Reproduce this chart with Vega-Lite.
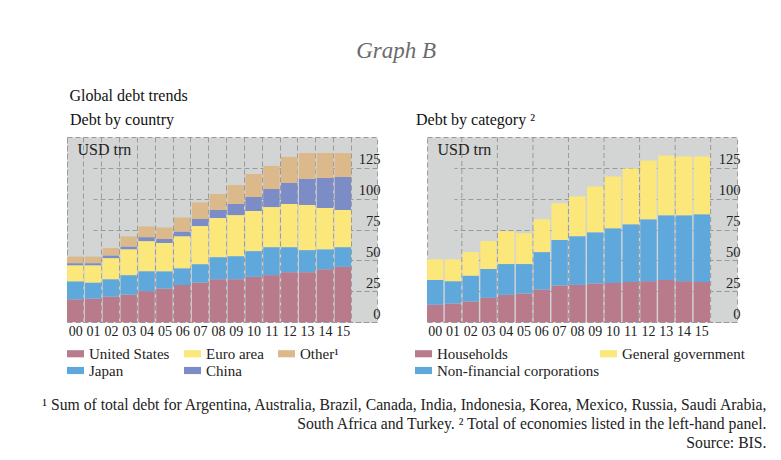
{
  "$schema": "https://vega.github.io/schema/vega-lite/v6.json",
  "background": "white",
  "padding": {"left": 35, "top": 40, "right": 10, "bottom": 8},
  "title": {"text": "Graph B", "fontStyle": "italic", "fontSize": 23, "fontWeight": "normal", "color": "#6b6b6b", "anchor": "middle", "offset": 25, "dx": -5, "font": "Liberation Serif"},
  "datasets": {
    "country": [
      {"year":"00","series":"United States","value":18.4},{"year":"00","series":"Japan","value":14.6},{"year":"00","series":"Euro area","value":13.0},{"year":"00","series":"China","value":1.7},{"year":"00","series":"Other¹","value":5.3},
      {"year":"01","series":"United States","value":19.0},{"year":"01","series":"Japan","value":13.0},{"year":"01","series":"Euro area","value":14.0},{"year":"01","series":"China","value":1.7},{"year":"01","series":"Other¹","value":5.3},
      {"year":"02","series":"United States","value":20.6},{"year":"02","series":"Japan","value":14.1},{"year":"02","series":"Euro area","value":17.1},{"year":"02","series":"China","value":2.2},{"year":"02","series":"Other¹","value":6.0},
      {"year":"03","series":"United States","value":22.2},{"year":"03","series":"Japan","value":15.8},{"year":"03","series":"Euro area","value":21.0},{"year":"03","series":"China","value":2.2},{"year":"03","series":"Other¹","value":8.2},
      {"year":"04","series":"United States","value":25.0},{"year":"04","series":"Japan","value":16.2},{"year":"04","series":"Euro area","value":24.4},{"year":"04","series":"China","value":3.2},{"year":"04","series":"Other¹","value":8.7},
      {"year":"05","series":"United States","value":27.1},{"year":"05","series":"Japan","value":14.1},{"year":"05","series":"Euro area","value":22.8},{"year":"05","series":"China","value":3.2},{"year":"05","series":"Other¹","value":9.5},
      {"year":"06","series":"United States","value":30.0},{"year":"06","series":"Japan","value":13.6},{"year":"06","series":"Euro area","value":26.0},{"year":"06","series":"China","value":3.8},{"year":"06","series":"Other¹","value":11.4},
      {"year":"07","series":"United States","value":32.0},{"year":"07","series":"Japan","value":14.9},{"year":"07","series":"Euro area","value":30.9},{"year":"07","series":"China","value":5.7},{"year":"07","series":"Other¹","value":13.5},
      {"year":"08","series":"United States","value":34.7},{"year":"08","series":"Japan","value":17.9},{"year":"08","series":"Euro area","value":31.7},{"year":"08","series":"China","value":6.5},{"year":"08","series":"Other¹","value":13.0},
      {"year":"09","series":"United States","value":34.7},{"year":"09","series":"Japan","value":18.7},{"year":"09","series":"Euro area","value":33.3},{"year":"09","series":"China","value":9.0},{"year":"09","series":"Other¹","value":15.3},
      {"year":"10","series":"United States","value":36.6},{"year":"10","series":"Japan","value":20.9},{"year":"10","series":"Euro area","value":32.5},{"year":"10","series":"China","value":11.4},{"year":"10","series":"Other¹","value":18.6},
      {"year":"11","series":"United States","value":38.0},{"year":"11","series":"Japan","value":22.7},{"year":"11","series":"Euro area","value":32.5},{"year":"11","series":"China","value":14.7},{"year":"11","series":"Other¹","value":18.7},
      {"year":"12","series":"United States","value":40.4},{"year":"12","series":"Japan","value":20.3},{"year":"12","series":"Euro area","value":35.0},{"year":"12","series":"China","value":17.0},{"year":"12","series":"Other¹","value":21.2},
      {"year":"13","series":"United States","value":40.4},{"year":"13","series":"Japan","value":17.9},{"year":"13","series":"Euro area","value":36.6},{"year":"13","series":"China","value":21.1},{"year":"13","series":"Other¹","value":21.0},
      {"year":"14","series":"United States","value":42.8},{"year":"14","series":"Japan","value":16.2},{"year":"14","series":"Euro area","value":33.4},{"year":"14","series":"China","value":24.4},{"year":"14","series":"Other¹","value":20.2},
      {"year":"15","series":"United States","value":44.7},{"year":"15","series":"Japan","value":16.0},{"year":"15","series":"Euro area","value":30.1},{"year":"15","series":"China","value":26.8},{"year":"15","series":"Other¹","value":19.4}
    ],
    "category": [
      {"year":"00","series":"Households","value":14.0},{"year":"00","series":"Non-financial corporations","value":20.1},{"year":"00","series":"General government","value":16.7},
      {"year":"01","series":"Households","value":15.0},{"year":"01","series":"Non-financial corporations","value":18.1},{"year":"01","series":"General government","value":17.7},
      {"year":"02","series":"Households","value":16.7},{"year":"02","series":"Non-financial corporations","value":20.9},{"year":"02","series":"General government","value":19.1},
      {"year":"03","series":"Households","value":19.6},{"year":"03","series":"Non-financial corporations","value":23.4},{"year":"03","series":"General government","value":22.6},
      {"year":"04","series":"Households","value":22.0},{"year":"04","series":"Non-financial corporations","value":25.0},{"year":"04","series":"General government","value":26.7},
      {"year":"05","series":"Households","value":23.1},{"year":"05","series":"Non-financial corporations","value":23.9},{"year":"05","series":"General government","value":25.0},
      {"year":"06","series":"Households","value":26.3},{"year":"06","series":"Non-financial corporations","value":30.4},{"year":"06","series":"General government","value":26.6},
      {"year":"07","series":"Households","value":29.6},{"year":"07","series":"Non-financial corporations","value":36.8},{"year":"07","series":"General government","value":29.8},
      {"year":"08","series":"Households","value":30.1},{"year":"08","series":"Non-financial corporations","value":39.5},{"year":"08","series":"General government","value":32.3},
      {"year":"09","series":"Households","value":31.2},{"year":"09","series":"Non-financial corporations","value":41.6},{"year":"09","series":"General government","value":37.1},
      {"year":"10","series":"Households","value":31.7},{"year":"10","series":"Non-financial corporations","value":44.4},{"year":"10","series":"General government","value":41.9},
      {"year":"11","series":"Households","value":32.5},{"year":"11","series":"Non-financial corporations","value":46.8},{"year":"11","series":"General government","value":45.2},
      {"year":"12","series":"Households","value":33.1},{"year":"12","series":"Non-financial corporations","value":50.2},{"year":"12","series":"General government","value":47.6},
      {"year":"13","series":"Households","value":34.1},{"year":"13","series":"Non-financial corporations","value":52.5},{"year":"13","series":"General government","value":48.3},
      {"year":"14","series":"Households","value":33.1},{"year":"14","series":"Non-financial corporations","value":53.5},{"year":"14","series":"General government","value":47.5},
      {"year":"15","series":"Households","value":32.5},{"year":"15","series":"Non-financial corporations","value":54.9},{"year":"15","series":"General government","value":46.7}
    ]
  },
  "vconcat": [
    {
      "title": {"text": ["¹  Sum of total debt for Argentina, Australia, Brazil, Canada, India, Indonesia, Korea, Mexico, Russia, Saudi Arabia,", "South Africa and Turkey.  ²  Total of economies listed in the left-hand panel.", "Source: BIS."], "orient": "bottom", "anchor": "end", "align": "right", "fontSize": 15.7, "lineHeight": 19, "fontWeight": "normal", "color": "#222", "offset": 18, "dx": 21, "font": "Liberation Serif"},
      "vconcat": [
        {
          "title": {"text": "Global debt trends", "anchor": "start", "fontSize": 16, "fontWeight": "normal", "color": "#111", "offset": 7, "dx": 3, "font": "Liberation Serif"},
          "hconcat": [
            {
              "width": 310,
              "height": 185,
              "title": {"text": "Debt by country", "anchor": "start", "fontSize": 16, "fontWeight": "normal", "color": "#111", "offset": 9, "dx": 3, "font": "Liberation Serif"},
              "data": {"name": "country"},
              "transform": [{"calculate": "indexof(['United States','Japan','Euro area','China','Other¹'], datum.series)", "as": "stackIdx"}],
              "mark": {"type": "bar"},
              "encoding": {
                "x": {"field": "year", "type": "ordinal", "scale": {"range": [0, 284], "paddingInner": 0.08, "paddingOuter": 0},
                  "axis": {"title": null, "domain": false, "ticks": false, "labelAngle": 0, "labelPadding": 2, "labelFontSize": 14, "grid": true, "tickBand": "extent", "gridDash": [5, 3], "gridColor": "#9a9a9a", "gridWidth": 1}},
                "y": {"field": "value", "type": "quantitative", "stack": "zero", "scale": {"domain": [0, 150], "nice": false},
                  "axis": {"orient": "right", "values": [0, 25, 50, 75, 100, 125], "title": "USD trn", "titleAngle": 0, "titleAlign": "left", "titleBaseline": "alphabetic", "titleX": -300, "titleY": 17, "titleFontWeight": "normal", "titleFontSize": 16, "domain": false, "ticks": false, "labelAlign": "right", "labelPadding": 3, "labelBaseline": "alphabetic", "labelOffset": -4, "labelFontSize": 14.5, "grid": true, "gridDash": [5, 3], "gridColor": "#9a9a9a"}},
                "color": {"field": "series", "type": "nominal",
                  "scale": {"domain": ["United States", "Euro area", "Other¹", "Japan", "China"], "range": ["#b97b8b", "#fbe77a", "#dcb98b", "#5ea8dc", "#7b8cc6"]},
                  "legend": {"title": null, "orient": "none", "legendX": 0, "legendY": 208, "direction": "horizontal", "columns": 3, "columnPadding": 14, "rowPadding": -4, "gridAlign": "each"}},
                "order": {"field": "stackIdx", "type": "quantitative", "sort": "ascending"}
              }
            },
            {
              "width": 310,
              "height": 185,
              "title": {"text": "Debt by category ²", "anchor": "start", "fontSize": 16, "fontWeight": "normal", "color": "#111", "offset": 9, "dx": 1, "font": "Liberation Serif"},
              "data": {"name": "category"},
              "layer": [
                {
                  "transform": [{"filter": "datum.series == 'Households' && toNumber(datum.year) % 2 == 0 && datum.year != '00'"}],
                  "mark": {"type": "rule", "strokeDash": [5, 3], "color": "#9a9a9a", "strokeWidth": 1},
                  "encoding": {"x": {"field": "year", "type": "ordinal", "bandPosition": -0.045,
                    "axis": {"title": null, "domain": false, "ticks": false, "labelAngle": 0, "labelPadding": 2, "labelFontSize": 14, "grid": false}}}
                },
                {
                  "transform": [{"filter": "datum.series == 'Households' && datum.year == '15'"}],
                  "mark": {"type": "rule", "strokeDash": [5, 3], "color": "#9a9a9a", "strokeWidth": 1},
                  "encoding": {"x": {"field": "year", "type": "ordinal", "bandPosition": 1.04,
                    "axis": {"title": null, "domain": false, "ticks": false, "labelAngle": 0, "labelPadding": 2, "labelFontSize": 14, "grid": false}}}
                },
                {
                  "transform": [{"calculate": "indexof(['Households','Non-financial corporations','General government'], datum.series)", "as": "stackIdx"}],
                  "mark": {"type": "bar"},
                  "encoding": {
                    "x": {"field": "year", "type": "ordinal", "scale": {"range": [0, 283], "paddingInner": 0.08, "paddingOuter": 0},
                      "axis": {"title": null, "domain": false, "ticks": false, "labelAngle": 0, "labelPadding": 2, "labelFontSize": 14, "grid": false}},
                    "y": {"field": "value", "type": "quantitative", "stack": "zero", "scale": {"domain": [0, 150], "nice": false},
                      "axis": {"orient": "right", "values": [0, 25, 50, 75, 100, 125], "title": "USD trn", "titleAngle": 0, "titleAlign": "left", "titleBaseline": "alphabetic", "titleX": -300, "titleY": 17, "titleFontWeight": "normal", "titleFontSize": 16, "domain": false, "ticks": false, "labelAlign": "right", "labelPadding": 3, "labelBaseline": "alphabetic", "labelOffset": -4, "labelFontSize": 14.5, "grid": true, "gridDash": [5, 3], "gridColor": "#9a9a9a"}},
                    "color": {"field": "series", "type": "nominal",
                      "scale": {"domain": ["Households", "General government", "Non-financial corporations"], "range": ["#b97b8b", "#fbe77a", "#5ea8dc"]},
                      "legend": {"title": null, "orient": "none", "legendX": -12, "legendY": 208, "direction": "horizontal", "columns": 2, "columnPadding": -30, "rowPadding": -4, "gridAlign": "each", "labelLimit": 400}},
                    "order": {"field": "stackIdx", "type": "quantitative", "sort": "ascending"}
                  }
                }
              ]
            }
          ],
          "spacing": 33,
          "resolve": {"scale": {"color": "independent"}, "legend": {"color": "independent"}}
        }
      ]
    }
  ],
  "config": {
    "font": "Liberation Serif",
    "view": {"fill": "#d3d4d4", "stroke": "#9a9a9a", "strokeDash": [5, 3]},
    "axis": {"labelColor": "#222", "titleColor": "#222", "labelFont": "Liberation Serif", "titleFont": "Liberation Serif"},
    "legend": {"labelFont": "Liberation Serif", "labelFontSize": 15, "labelColor": "#222", "symbolType": "M-1,-0.42H1V0.42H-1Z", "symbolSize": 289, "symbolStrokeWidth": 0, "labelOffset": 5, "symbolOpacity": 1, "labelLimit": 400}
  }
}
